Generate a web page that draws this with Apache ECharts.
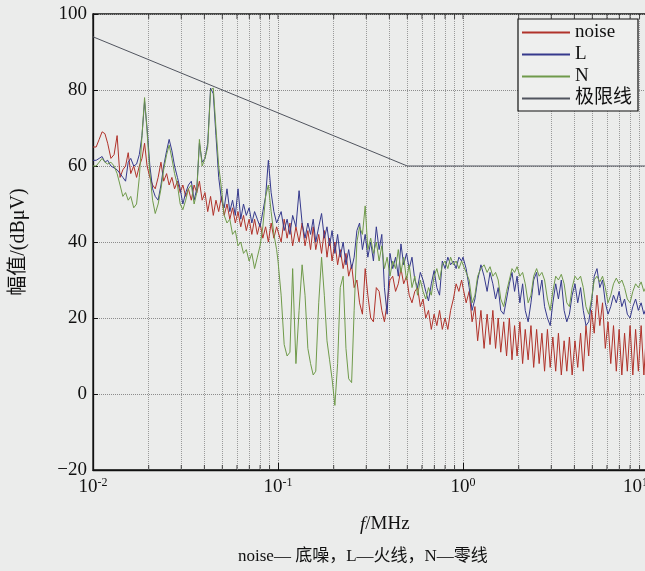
<!DOCTYPE html>
<html><head><meta charset="utf-8">
<script src="https://cdn.jsdelivr.net/npm/echarts@6/dist/echarts.min.js"></script>
<style>html,body{margin:0;padding:0;background:#ebeceb}#c{width:645px;height:571px}</style>
</head><body><div id="c"></div>
<script>
// frequency sample points (MHz)
const freq = [
0.0100,0.0104,0.0108,0.0112,0.0116,0.0120,0.0125,0.0130,0.0135,0.0140,0.0145,0.0150,0.0155,0.0160,0.0166,0.0172,0.0178,0.0184,0.0190,0.0196,0.0203,0.0210,0.0217,0.0225,0.0233,0.0241,0.0250,0.0258,0.0267,0.0276,0.0286,0.0296,0.0306,0.0317,0.0328,0.0340,0.0352,0.0364,0.0376,0.0389,0.0403,0.0417,0.0432,0.0447,0.0462,0.0478,0.0495,0.0512,0.0530,0.0549,0.0568,0.0588,0.0608,0.0629,0.0651,0.0674,0.0698,0.0722,0.0747,0.0773,0.0800,0.0828,0.0857,0.0887,0.0918,0.0950,0.0983,
0.100,0.104,0.108,0.112,0.116,0.120,0.125,0.130,0.135,0.140,0.145,0.150,0.155,0.160,0.166,0.172,0.178,0.184,0.190,0.196,0.203,0.210,0.217,0.225,0.233,0.241,0.250,0.258,0.267,0.276,0.286,0.296,0.306,0.317,0.328,0.340,0.352,0.364,0.376,0.389,0.403,0.417,0.432,0.447,0.462,0.478,0.495,0.512,0.530,0.549,0.568,0.588,0.608,0.629,0.651,0.674,0.698,0.722,0.747,0.773,0.800,0.828,0.857,0.887,0.918,0.950,0.983,
1.00,1.04,1.08,1.12,1.16,1.20,1.25,1.30,1.35,1.40,1.45,1.50,1.55,1.60,1.66,1.72,1.78,1.84,1.90,1.96,2.03,2.10,2.17,2.25,2.33,2.41,2.50,2.58,2.67,2.76,2.86,2.96,3.06,3.17,3.28,3.40,3.52,3.64,3.76,3.89,4.03,4.17,4.32,4.47,4.62,4.78,4.95,5.12,5.30,5.49,5.68,5.88,6.08,6.29,6.51,6.74,6.98,7.22,7.47,7.73,8.00,8.28,8.57,8.87,9.18,9.50,9.83,10.0
];
// noise floor (dBuV)
const noise = [
65,65,67,69,68.5,66,62,63,68,57,59,60,63.5,58,60,57,60,62,66,60,57,55,54,57,61,56,58,55,57,54,56,53,55,52,54,51,55,53,56,51,53,48,52,47,51,48,52,47,50,46,49,45,48,44,47,43,46,42,46,42,45,41,44,40,45,41,44,
44,40,46,41,45,39,44,40,45,39,43,38,44,38,42,37,43,36,41,35,40,34,38,33,37,31,34,28,30,24,21,33,26,20,19,28,27,22,19,24,30,31,27,29,33,29,31,26,24,27,28,23,25,20,22,17,21,18,22,17,20,17,22,25,29,27,30,
28,24,27,19,23,14,22,12,21,13,22,12,20,11,19,10,20,9,18,10,19,8,17,9,18,7,17,8,16,6,17,7,15,6,16,5,14,6,15,5,14,7,16,6,18,10,22,16,26,18,24,12,19,8,18,6,17,5,16,6,18,5,17,6,18,5,17,7
];
// L - live line
const lineL = [
61.5,61.5,62,62.5,61,61.5,60,59.5,59,58,57,56,61,62,60,60.5,63,68,77,70,60,54,52,51,55,60,64,67,64,60,57,54,50,53,55,56,51,54,66,61,62,66,80.5,79,68,57,51,49,54,48,51,47,54,46,50,47,49,45,48,46,44,48,52,61.5,53,48,45,
45,48,43,46,42,47,44,53.5,45,41,45,42,46,40,44,47.5,41,44,39,43,37,42,36,40,34,38,33,36,43,45,38,42,36,40,35,44,38,42,28,21,37,33,36,31,39.5,34,37,33,36,30,28,32,30,27,24.5,29,32.5,28,26,35,33,36,34,35,33,36,35,
36,33,28,22,25,30,34,31,27,32,29,25,28,22,21,25,29,32,27,31,24,29,22,19,24,30,32,26,30,23,20,18,24,29,25,30,22,19,21,26,29,24,28,22,18,19,24,31,33,28,30,24,21,23,26,24,27,23,25,21,20,23,25,22,24,21,23,22
];
// N - neutral line
const lineN = [
60,60,61,62,61,60.5,61,60,58,55,52,53,51,52,49,50,57,68,78,69,58,51,47.5,50,54,59,63,65.5,62,58,55,50,48.5,51,54,55,50,53,67,60,62,65,80,80.5,70,60,54,47,45,46,42,43,39,40,37,38,35,37,33,36,39,44,52,55,48,42,38,
35,26,13,10,11,33,8,22,34,26,12,8,5,6,24,36,26,14,9,4,-3,8,28,31,12,4,3,22,40,44,42,49.5,38,41,37,40,35,39,33,36,31,35,33,38,32,36,30,34,28,31,26,30,27,25,28,26,31,33,30,34,35,33,36,34,35,33,35,
34,32,30,24,26,31,33,34,32,33.5,31,32,30,25,23,27,30,33,32,33.5,31,32,29,24,26,31,33,31,32,30,25,22,27,31,30,31.5,29,24,23,28,31,30,31,28,23,21,25,30,31,29.5,31,28,24,26,29,30.5,29,30,28,25,24,27,29,28,29.5,27,28.5,27
];
// limit line
const limitF = [0.01, 0.5, 10];
const limitV = [94, 60, 60];
// axes
const yTicks = [-20, 0, 20, 40, 60, 80, 100];
const majorF = [0.01, 0.1, 1, 10];
const majorExp = ['-2', '-1', '0', '1'];
const minorF = [0.02,0.03,0.04,0.05,0.06,0.07,0.08,0.09,0.2,0.3,0.4,0.5,0.6,0.7,0.8,0.9,2,3,4,5,6,7,8,9];

const serif = '"Liberation Serif","Times New Roman","DejaVu Serif","Noto Sans CJK SC",serif';
const pair = (xs, ys) => xs.map((x, i) => [x, ys[i]]);
const expOf = v => { const i = majorF.findIndex(f => Math.abs(f - v) / f < 1e-6); return i >= 0 ? majorExp[i] : ''; };

const chart = echarts.init(document.getElementById('c'));
chart.setOption({
  backgroundColor: '#ebeceb',
  animation: false,
  grid: { left: 93, top: 14, width: 555, height: 456, show: true, borderColor: '#111', borderWidth: 1.3, backgroundColor: 'transparent', outerBoundsMode: 'none', containLabel: false },
  legend: {
    data: ['noise', 'L', 'N', '极限线'],
    orient: 'vertical', left: 518, top: 19,
    backgroundColor: '#eeefee',
    borderColor: '#111', borderWidth: 1.2, borderRadius: 0,
    padding: [4, 6, 3, 4],
    itemWidth: 48, itemHeight: 2, itemGap: 3, icon: 'rect',
    textStyle: { fontFamily: serif, fontSize: 19, color: '#111', lineHeight: 19 }
  },
  xAxis: {
    type: 'log', logBase: 10, min: 0.01, max: 10,
    axisLine: { show: true, onZero: false, lineStyle: { color: '#111', width: 1.3 } },
    axisTick: { show: true, inside: true, length: 7, lineStyle: { color: '#111' } },
    splitLine: { show: true, lineStyle: { color: '#8c8c8c', type: 'dotted', width: 1 } },
    axisLabel: {
      margin: 7, alignMaxLabel: 'right',
      formatter: v => '{b|10}{p|' + expOf(v) + '}',
      rich: {
        b: { fontFamily: serif, fontSize: 19, color: '#111', lineHeight: 20 },
        p: { fontFamily: serif, fontSize: 12, color: '#111', verticalAlign: 'top', lineHeight: 12 }
      }
    }
  },
  yAxis: {
    type: 'value', min: yTicks[0], max: yTicks[yTicks.length - 1], interval: 20,
    name: '幅值/(dBμV)', nameLocation: 'middle', nameGap: 64, nameRotate: 90,
    nameTextStyle: { fontFamily: serif, fontSize: 20, color: '#111' },
    axisLine: { show: true, lineStyle: { color: '#111', width: 1.3 } },
    axisTick: { show: true, inside: true, length: 5, lineStyle: { color: '#111' } },
    splitLine: { show: true, lineStyle: { color: '#8c8c8c', type: 'dotted', width: 1 } },
    axisLabel: { margin: 6, fontFamily: serif, fontSize: 19, color: '#111', formatter: v => String(v).replace('-', '−') }
  },
  series: [
    {
      name: 'noise', type: 'line', data: pair(freq, noise), symbol: 'none', z: 2,
      color: '#b0322a', lineStyle: { color: '#b0322a', width: 1 },
      markLine: {
        z: 1, silent: true, symbol: ['none', 'none'], label: { show: false },
        lineStyle: { color: '#9a9a9a', type: 'dotted', width: 1 },
        data: minorF.map(f => ({ xAxis: f }))
      }
    },
    { name: 'L', type: 'line', data: pair(freq, lineL), symbol: 'none', z: 3, color: '#35398c', lineStyle: { color: '#35398c', width: 1 } },
    { name: 'N', type: 'line', data: pair(freq, lineN), symbol: 'none', z: 4, color: '#6f9a4a', lineStyle: { color: '#6f9a4a', width: 1 } },
    { name: '极限线', type: 'line', data: pair(limitF, limitV), symbol: 'none', z: 5, color: '#50545e', lineStyle: { color: '#50545e', width: 1 } },
    {
      name: 'tickB', type: 'scatter', silent: true, clip: false, z: 6,
      data: minorF.map(f => [f, yTicks[0]]), symbol: 'rect', symbolSize: [1, 5], symbolOffset: [0, -2.5],
      itemStyle: { color: '#222' }
    },
    {
      name: 'tickT', type: 'scatter', silent: true, clip: false, z: 6,
      data: minorF.concat(majorF).map(f => [f, yTicks[yTicks.length - 1]]), symbol: 'rect', symbolSize: [1, 5], symbolOffset: [0, 2.5],
      itemStyle: { color: '#222' }
    }
  ],
  graphic: [
    {
      type: 'text', left: 360, top: 515,
      style: {
        text: '{i|f}/MHz',
        rich: { i: { fontFamily: serif, fontStyle: 'italic', fontSize: 19, fill: '#111' } },
        font: '19px ' + serif, fill: '#111'
      }
    },
    {
      type: 'text', left: 238, top: 548,
      style: { text: 'noise— 底噪，L—火线，N—零线', font: '17px ' + serif, fill: '#111' }
    }
  ]
});
</script></body></html>
